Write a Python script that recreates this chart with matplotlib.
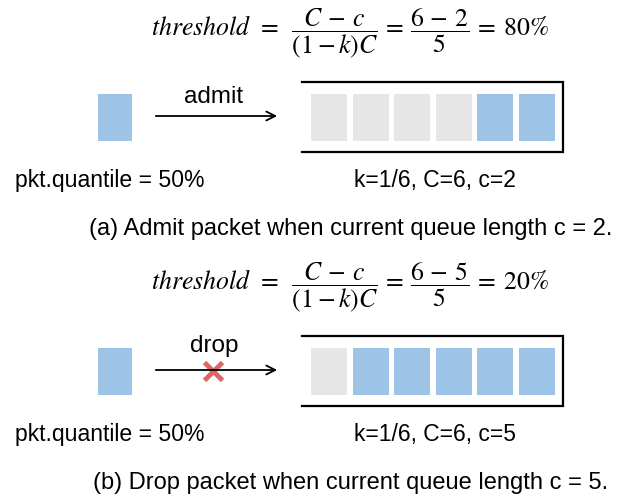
import matplotlib
matplotlib.use("Agg")
import matplotlib.pyplot as plt
from matplotlib.patches import Rectangle

plt.rcParams['font.family'] = ['Liberation Sans', 'DejaVu Sans']
plt.rcParams['mathtext.fontset'] = 'stix'

# scenario values
C = 6
k = 1 / 6
quantile = 50
cur_len = [2, 5]
actions = ['admit', 'drop']
queues = [[0, 0, 0, 0, 1, 1],
          [0, 1, 1, 1, 1, 1]]
captions = ['(a) Admit packet when current queue length c = 2.',
            '(b) Drop packet when current queue length c = 5.']

blue = '#9DC3E6'
gray = '#E6E6E6'
red = '#E06666'

fig = plt.figure(figsize=(6.26, 5.02), dpi=100)
ax = fig.add_axes([0, 0, 1, 1])
ax.set_xlim(0, 626)
ax.set_ylim(502, 0)
ax.axis('off')

for i in range(2):
    dy = i * 254
    c = cur_len[i]
    thr = (C - c) / ((1 - k) * C)
    formula = (r'$\mathit{threshold}\;\,=\;\;\dfrac{C\,-\,c}{(1-k)C}\,=\,'
               r'\dfrac{%d\,-\,%d}{%d}\,=\;%d\%%$'
               % (C, c, round((1 - k) * C), round(thr * 100)))
    ax.text(350, 33 + dy, formula, fontsize=18.5, ha='center', va='center')

    # incoming packet
    ax.add_patch(Rectangle((98, 95 + dy), 34, 47, color=blue, lw=0))
    ax.annotate('', xy=(280, 117 + dy), xytext=(153, 117 + dy),
                arrowprops=dict(arrowstyle='->', lw=1.3, color='black',
                                mutation_scale=16))
    base = 103 if i == 0 else 98
    ax.text(214, base + dy, actions[i], fontsize=17.5, ha='center',
            va='baseline')
    if actions[i] == 'drop':
        ax.plot(213, 118 + dy, marker='x', markersize=13, mew=3.5,
                color=red)

    # queue outline (open on the left)
    ax.plot([302, 563, 563, 302], [83 + dy, 83 + dy, 153 + dy, 153 + dy],
            color='black', lw=1.6, solid_joinstyle='miter')
    for j, occ in enumerate(queues[i]):
        ax.add_patch(Rectangle((311 + j * 41.6, 95 + dy), 36, 47,
                               color=blue if occ else gray, lw=0))

    ax.text(15, 181 + dy, 'pkt.quantile = %d%%' % quantile, fontsize=16.6,
            ha='left', va='center')
    ax.text(435, 181 + dy, 'k=1/6, C=%d, c=%d' % (C, c), fontsize=16.5,
            ha='center', va='center')
    ax.text(351, 229 + dy, captions[i], fontsize=17, ha='center',
            va='center')

fig.savefig('out.png', dpi=100)
